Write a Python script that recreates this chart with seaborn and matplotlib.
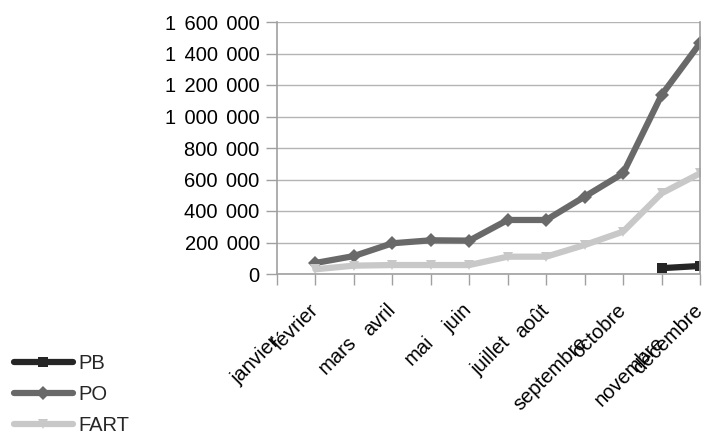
import numpy as np
import pandas as pd
import matplotlib
matplotlib.use("Agg")
import matplotlib.pyplot as plt
import seaborn as sns
from matplotlib.ticker import FuncFormatter

months = ["janvier", "février", "mars", "avril", "mai", "juin", "juillet",
          "août", "septembre", "octobre", "novembre", "décembre"]
pb = [np.nan] * 10 + [37000, 51000]
po = [np.nan, 70000, 114000, 195000, 214000, 212000, 343000, 343000,
      491000, 639000, 1136000, 1465000]
fart = [np.nan, 30000, 53000, 57000, 57000, 57000, 110000, 110000,
        184000, 269000, 512000, 639000]

series = ["PB", "PO", "FART"]
colors = {"PB": "#262626", "PO": "#696969", "FART": "#c8c8c8"}
markers = {"PB": "s", "PO": "D", "FART": "v"}

df = pd.DataFrame({
    "idx": np.tile(np.arange(len(months)), 3),
    "serie": np.repeat(series, len(months)),
    "valeur": pb + po + fart,
}).dropna()

sns.set_style("white")
plt.rcParams["font.family"] = ["Liberation Sans", "DejaVu Sans"]

fig = plt.figure(figsize=(7.06, 4.41), dpi=100)
ax = fig.add_axes([277 / 706, 1 - 274 / 441, 423 / 706, 252 / 441])

sns.lineplot(data=df, x="idx", y="valeur", hue="serie", style="serie",
             hue_order=series, style_order=series, palette=colors,
             markers=markers, dashes=False, linewidth=4.5, markersize=7,
             markeredgewidth=0, ax=ax, legend=True)

ax.set_xlim(0, len(months) - 1)
ax.set_ylim(0, 1600000)
ax.set_yticks(np.arange(0, 1600001, 200000))
ax.yaxis.set_major_formatter(
    FuncFormatter(lambda v, p: f"{int(v):,}".replace(",", "\u2004\u200a")))
ax.set_xticks(np.arange(len(months)))
ax.set_xticklabels(months, rotation=45, ha="right", va="center",
                   rotation_mode="anchor")
ax.set_xlabel("")
ax.set_ylabel("")

ax.grid(axis="y", color="#b4b4b4", linewidth=1)
ax.grid(axis="x", visible=False)
ax.set_axisbelow(True)
for side in ["left", "bottom", "right"]:
    ax.spines[side].set_visible(True)
    ax.spines[side].set_color("#a0a0a0")
    ax.spines[side].set_linewidth(1.2)
ax.spines["top"].set_visible(False)
ax.tick_params(axis="both", which="major", length=8, width=1, color="#a0a0a0",
               labelsize=14.5, labelcolor="#000000", direction="out",
               left=True, bottom=True)
ax.tick_params(axis="y", pad=4.5)

# month labels alternate between two rows
for i, tick in enumerate(ax.xaxis.get_major_ticks()):
    tick.set_pad(39 if i % 2 == 0 else 16)

handles, labels = ax.get_legend_handles_labels()
ax.get_legend().remove()
fig.legend(handles, labels, loc="lower left", bbox_to_anchor=(0.0, -0.018),
           frameon=False, fontsize=14.5, handlelength=2.9, handletextpad=0.3,
           labelspacing=0.6, borderaxespad=0.3)

fig.savefig("out.png", dpi=100)
